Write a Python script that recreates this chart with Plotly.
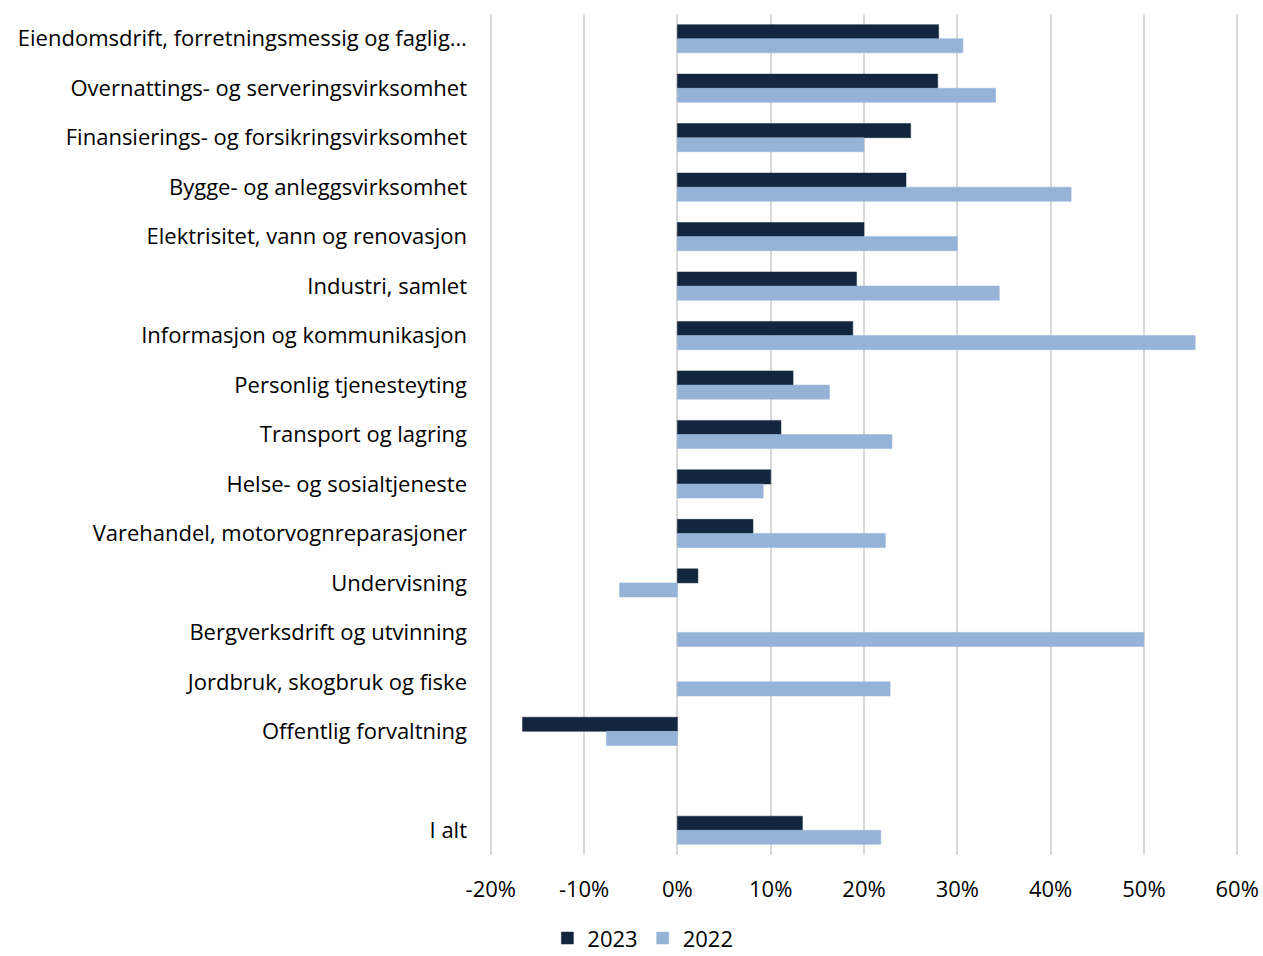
import plotly.graph_objects as go

categories = [
    "Eiendomsdrift, forretningsmessig og faglig…",
    "Overnattings- og serveringsvirksomhet",
    "Finansierings- og forsikringsvirksomhet",
    "Bygge- og anleggsvirksomhet",
    "Elektrisitet, vann og renovasjon",
    "Industri, samlet",
    "Informasjon og kommunikasjon",
    "Personlig tjenesteyting",
    "Transport og lagring",
    "Helse- og sosialtjeneste",
    "Varehandel, motorvognreparasjoner",
    "Undervisning",
    "Bergverksdrift og utvinning",
    "Jordbruk, skogbruk og fiske",
    "Offentlig forvaltning",
    " ",
    "I alt",
]
values_2023 = [28.0, 27.9, 25.0, 24.5, 20.0, 19.2, 18.8, 12.4, 11.1, 10.0, 8.1, 2.2,
               None, None, -16.6, None, 13.4]
values_2022 = [30.6, 34.1, 20.0, 42.2, 30.0, 34.5, 55.5, 16.3, 23.0, 9.2, 22.3, -6.2,
               50.0, 22.8, -7.6, None, 21.8]
tick_vals = [-20, -10, 0, 10, 20, 30, 40, 50, 60]
tick_text = ["-20%", "-10%", "0%", "10%", "20%", "30%", "40%", "50%", "60%"]

FONT = "'Open Sans', Lato, sans-serif"

fig = go.Figure()
fig.add_trace(go.Bar(
    name="2023", y=categories, x=values_2023, orientation="h",
    marker=dict(color="#12263f", line=dict(color="#12263f", width=0.5)),
))
fig.add_trace(go.Bar(
    name="2022", y=categories, x=values_2022, orientation="h",
    marker=dict(color="#95b3d7", line=dict(color="#95b3d7", width=0.5)),
))

fig.update_layout(
    width=1263, height=956,
    barmode="group", bargap=0.43, bargroupgap=0,
    plot_bgcolor="white", paper_bgcolor="white",
    font=dict(family=FONT, size=22, color="#000000"),
    margin=dict(l=488, r=23, t=14, b=101, autoexpand=False),
    showlegend=True,
    legend=dict(orientation="h", xref="container", yref="paper",
                x=0.509, xanchor="center", y=-0.099, yanchor="middle",
                font=dict(size=22), itemwidth=30, tracegroupgap=0,
                bgcolor="rgba(0,0,0,0)"),
)
fig.update_xaxes(
    range=[-20.3, 60.3], tickvals=tick_vals, ticktext=tick_text,
    showgrid=True, gridcolor="#d9d9d9", gridwidth=2,
    zeroline=True, zerolinecolor="#d9d9d9", zerolinewidth=2,
    showline=False, ticks="", ticklabelstandoff=19, automargin=False,
)
fig.update_yaxes(
    categoryorder="array", categoryarray=categories, autorange="reversed",
    showgrid=False, showline=False, ticks="", ticklabelstandoff=20,
    automargin=False,
)

fig.write_html("out.html",
               config={"displayModeBar": False},
               post_script="document.body.style.margin='0';document.body.style.overflow='hidden';")
